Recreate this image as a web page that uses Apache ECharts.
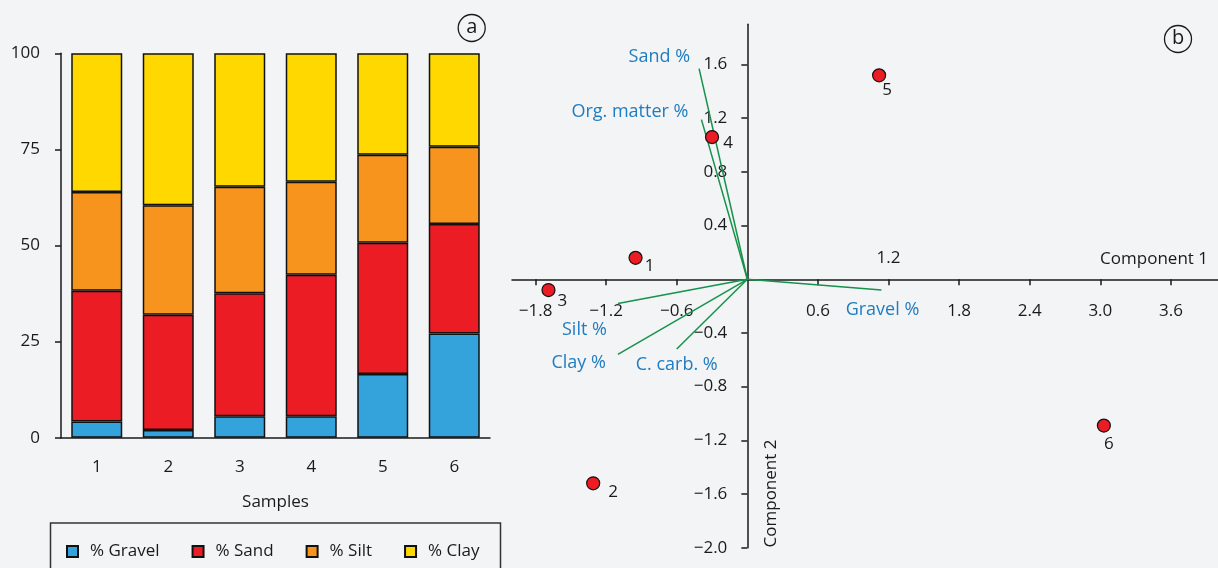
<!DOCTYPE html>
<html>
<head>
<meta charset="utf-8">
<script src="https://cdn.jsdelivr.net/npm/echarts@6/dist/echarts.min.js"></script>
<style>
  html, body { margin: 0; padding: 0; background: #f3f4f5; }
  #chart { width: 1218px; height: 568px; }
</style>
</head>
<body>
<div id="chart"></div>
<script>
// (a) grain-size composition of each sample, percent
const samples = ['1', '2', '3', '4', '5', '6'];
const gravel = [4.2, 2.0, 5.6, 5.6, 16.6, 27.1];
const sand   = [34.0, 30.0, 32.0, 36.8, 34.1, 28.5];
const silt   = [25.7, 28.5, 27.7, 24.2, 22.9, 20.1];
const clay   = [36.1, 39.5, 34.7, 33.4, 26.4, 24.3];
const percentTicks = [0, 25, 50, 75, 100];

// (b) PCA scores of the samples (component 1, component 2)
const scoreNames = ['1', '2', '3', '4', '5', '6'];
const scoreC1 = [-0.95, -1.31, -1.69, -0.30, 1.12, 3.03];
const scoreC2 = [0.16, -1.52, -0.08, 1.06, 1.52, -1.09];

// (b) variable loadings
const loadingNames = ['Sand %', 'Org. matter %', 'Gravel %', 'Silt %', 'Clay %', 'C. carb. %'];
const loadingC1 = [-0.41, -0.39, 1.14, -1.10, -1.10, -0.60];
const loadingC2 = [1.57, 1.19, -0.08, -0.18, -0.56, -0.52];

// (b) axis ranges and ticks
const comp1Range = [-2.0, 4.0];
const comp2Range = [-2.0, 1.9];
const comp1Ticks = [-1.8, -1.2, -0.6, 0.6, 1.2, 1.8, 2.4, 3.0, 3.6];
const comp1Labels = [-1.8, -1.2, -0.6, 0.6, 1.8, 2.4, 3.0, 3.6];
const comp1UpperLabels = [1.2];
const comp2Ticks = [-2.0, -1.6, -1.2, -0.8, -0.4, 0.4, 0.8, 1.2, 1.6];

const FONT = 'Open Sans';
const INK = '#1a1a1a';
const BLUE = '#1f7cc0';
const GREEN = '#16924c';
const fmt = v => v.toFixed(1).replace('-', '\u2212');

// layout of the two panels
const gridA = { left: 61, top: 53.3, width: 429, height: 384.4 };
const gridB = { left: 512, top: 24.3, width: 706, height: 523.4 };
// the biplot axes cross at the origin: shift them in from the grid edges
const xAxisShiftB = -gridB.height * (0 - comp2Range[0]) / (comp2Range[1] - comp2Range[0]);
const yAxisShiftB = -gridB.width * (0 - comp1Range[0]) / (comp1Range[1] - comp1Range[0]);

// label placement around each score point and loading tip
const scoreLabelOffset = {
  '1': [14, 8], '2': [20, 9], '3': [14, 11], '4': [16, 6], '5': [8, 15], '6': [5, 19]
};
const loadingLabelStyle = {
  'Sand %': { align: 'right', offset: [-9, -12] },
  'Org. matter %': { align: 'right', offset: [-13, -8] },
  'Gravel %': { align: 'center', offset: [1, 20] },
  'Silt %': { align: 'right', offset: [-11, 26] },
  'Clay %': { align: 'right', offset: [-12, 8] },
  'C. carb. %': { align: 'center', offset: [0, 16] }
};

const composition = [
  { name: '% Gravel', data: gravel, color: '#35a3db' },
  { name: '% Sand', data: sand, color: '#ec1c24' },
  { name: '% Silt', data: silt, color: '#f7941d' },
  { name: '% Clay', data: clay, color: '#ffd800' }
];

const barSeries = composition.map(c => ({
  type: 'bar',
  name: c.name,
  stack: 'total',
  xAxisIndex: 0,
  yAxisIndex: 0,
  barWidth: 51,
  data: c.data,
  itemStyle: { color: c.color, borderColor: '#111', borderWidth: 1.5 },
  emphasis: { disabled: true }
}));

const loadingSeries = loadingNames.map((n, i) => ({
  type: 'line',
  name: n,
  xAxisIndex: 1,
  yAxisIndex: 1,
  symbol: 'none',
  lineStyle: { color: GREEN, width: 1.5 },
  data: [[0, 0], [loadingC1[i], loadingC2[i]]],
  silent: true,
  z: 3
}));

const loadingLabelSeries = {
  type: 'scatter',
  xAxisIndex: 1,
  yAxisIndex: 1,
  symbolSize: 0,
  silent: true,
  itemStyle: { opacity: 1 },
  data: loadingNames.map((n, i) => ({
    name: n,
    value: [loadingC1[i], loadingC2[i]],
    label: {
      show: true,
      position: 'inside',
      formatter: n,
      align: loadingLabelStyle[n].align,
      verticalAlign: 'middle',
      offset: loadingLabelStyle[n].offset,
      color: BLUE,
      fontFamily: FONT,
      fontSize: 18
    }
  })),
  z: 4
};

const scoreSeries = {
  type: 'scatter',
  xAxisIndex: 1,
  yAxisIndex: 1,
  symbol: 'circle',
  symbolSize: 13,
  itemStyle: { color: '#ec1c24', borderColor: '#111', borderWidth: 1.2, opacity: 1 },
  data: scoreNames.map((n, i) => ({
    name: n,
    value: [scoreC1[i], scoreC2[i]],
    label: {
      show: true,
      position: 'inside',
      formatter: n,
      offset: scoreLabelOffset[n],
      color: INK,
      fontFamily: FONT,
      fontSize: 17
    }
  })),
  z: 5
};

const axisLineStyle = { color: INK, width: 1.5 };

const option = {
  backgroundColor: '#f3f4f5',
  animation: false,
  textStyle: { fontFamily: FONT, color: INK },
  grid: [gridA, gridB],
  legend: {
    data: composition.map(c => c.name),
    left: 66,
    top: 543,
    padding: 0,
    icon: 'rect',
    itemWidth: 11,
    itemHeight: 11,
    itemGap: 32,
    textStyle: { fontFamily: FONT, fontSize: 17, color: INK, padding: [0, 0, 0, 7] },
    selectedMode: false
  },
  xAxis: [
    {
      type: 'category',
      gridIndex: 0,
      data: samples,
      name: 'Samples',
      nameLocation: 'middle',
      nameGap: 56,
      nameTextStyle: { fontFamily: FONT, fontSize: 17, color: INK },
      axisLine: { lineStyle: axisLineStyle },
      axisTick: { length: 7, lineStyle: axisLineStyle },
      axisLabel: { margin: 21, fontFamily: FONT, fontSize: 17, color: INK }
    },
    {
      type: 'value',
      gridIndex: 1,
      min: comp1Range[0],
      max: comp1Range[1],
      position: 'bottom',
      offset: xAxisShiftB,
      splitLine: { show: false },
      axisLine: { onZero: false, lineStyle: axisLineStyle },
      axisTick: { length: 6, lineStyle: axisLineStyle, customValues: comp1Ticks },
      axisLabel: { customValues: comp1Labels, formatter: fmt, margin: 23, fontFamily: FONT, fontSize: 17, color: INK },
      name: 'Component 1',
      nameLocation: 'end',
      nameGap: -10,
      nameTextStyle: { fontFamily: FONT, fontSize: 17, color: INK, align: 'right', verticalAlign: 'bottom', padding: [0, 0, 12, 0] }
    },
    {
      type: 'value',
      gridIndex: 1,
      min: comp1Range[0],
      max: comp1Range[1],
      position: 'bottom',
      offset: xAxisShiftB,
      splitLine: { show: false },
      axisLine: { show: false, onZero: false },
      axisTick: { show: false },
      axisLabel: { inside: true, customValues: comp1UpperLabels, formatter: fmt, margin: 13, fontFamily: FONT, fontSize: 17, color: INK }
    }
  ],
  yAxis: [
    {
      type: 'value',
      gridIndex: 0,
      min: 0,
      max: 100,
      interval: 25,
      splitLine: { show: false },
      axisLine: { show: true, lineStyle: axisLineStyle },
      axisTick: { show: true, length: 6, lineStyle: axisLineStyle, customValues: percentTicks },
      axisLabel: { margin: 21, fontFamily: FONT, fontSize: 17, color: INK, customValues: percentTicks }
    },
    {
      type: 'value',
      gridIndex: 1,
      min: comp2Range[0],
      max: comp2Range[1],
      position: 'left',
      offset: yAxisShiftB,
      splitLine: { show: false },
      axisLine: { show: true, onZero: false, lineStyle: axisLineStyle },
      axisTick: { show: true, length: 6, lineStyle: axisLineStyle, customValues: comp2Ticks },
      axisLabel: { customValues: comp2Ticks, formatter: fmt, margin: 20, fontFamily: FONT, fontSize: 17, color: INK }
    }
  ],
  series: [...barSeries, ...loadingSeries, loadingLabelSeries, scoreSeries],
  graphic: [
    // legend frame
    { type: 'rect', shape: { x: 50.5, y: 523, width: 450, height: 60 }, style: { fill: 'none', stroke: '#333', lineWidth: 1.5 }, z: 0 },
    // panel letters
    { type: 'circle', shape: { cx: 471.7, cy: 28, r: 13.5 }, style: { fill: 'none', stroke: INK, lineWidth: 1.3 } },
    { type: 'text', x: 471.7, y: 27, style: { text: 'a', font: '20px "Open Sans"', fill: INK, align: 'center', verticalAlign: 'middle' } },
    { type: 'circle', shape: { cx: 1178, cy: 39, r: 13.5 }, style: { fill: 'none', stroke: INK, lineWidth: 1.3 } },
    { type: 'text', x: 1178, y: 38, style: { text: 'b', font: '20px "Open Sans"', fill: INK, align: 'center', verticalAlign: 'middle' } },
    // second component axis title
    { type: 'text', x: 771, y: 493.5, rotation: Math.PI / 2, style: { text: 'Component 2', font: '17px "Open Sans"', fill: INK, align: 'center', verticalAlign: 'middle' } }
  ]
};

const chart = echarts.init(document.getElementById('chart'), null, { renderer: 'canvas' });
chart.setOption(option);
</script>
</body>
</html>
